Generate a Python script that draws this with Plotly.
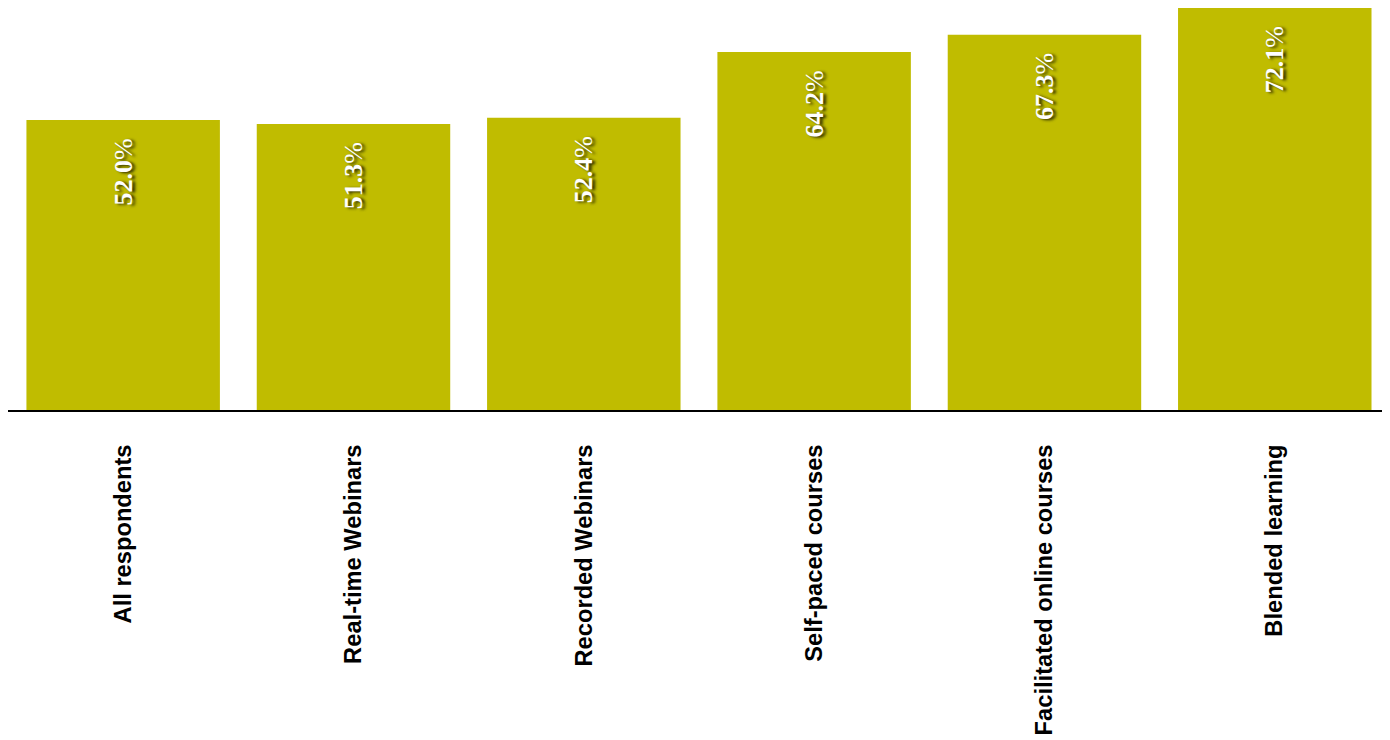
import plotly.graph_objects as go

categories = ["All respondents", "Real-time Webinars", "Recorded Webinars",
              "Self-paced courses", "Facilitated online courses", "Blended learning"]
values = [52.0, 51.3, 52.4, 64.2, 67.3, 72.1]
labels = [f"<b>{v:.1f}</b>%" for v in values]

fig = go.Figure(go.Bar(
    x=categories, y=values,
    marker=dict(color="#C0BC00", line=dict(width=0)),
    text=[t + "\u2002\u200A" for t in labels],
    textposition="inside", insidetextanchor="end", textangle=-90,
    textfont=dict(family="Liberation Serif", size=26, color="white",
                  shadow="-1px 3px 3px rgba(0,0,0,0.8)"),
    hoverinfo="skip",
))

fig.update_layout(
    width=1390, height=740,
    margin=dict(l=0, r=0, t=0, b=338),
    paper_bgcolor="white", plot_bgcolor="white",
    bargap=0.16, showlegend=False,
    xaxis=dict(showline=True, linecolor="black", linewidth=2, showgrid=False,
               range=[-0.5, 5.535],
               tickangle=-90, ticks="", ticklabelstandoff=23,
               tickfont=dict(family="Liberation Sans", size=23.7, color="black", weight="bold")),
    yaxis=dict(range=[0, 72.1], visible=False, showgrid=False, zeroline=False),
)
fig.write_html("out.html")
